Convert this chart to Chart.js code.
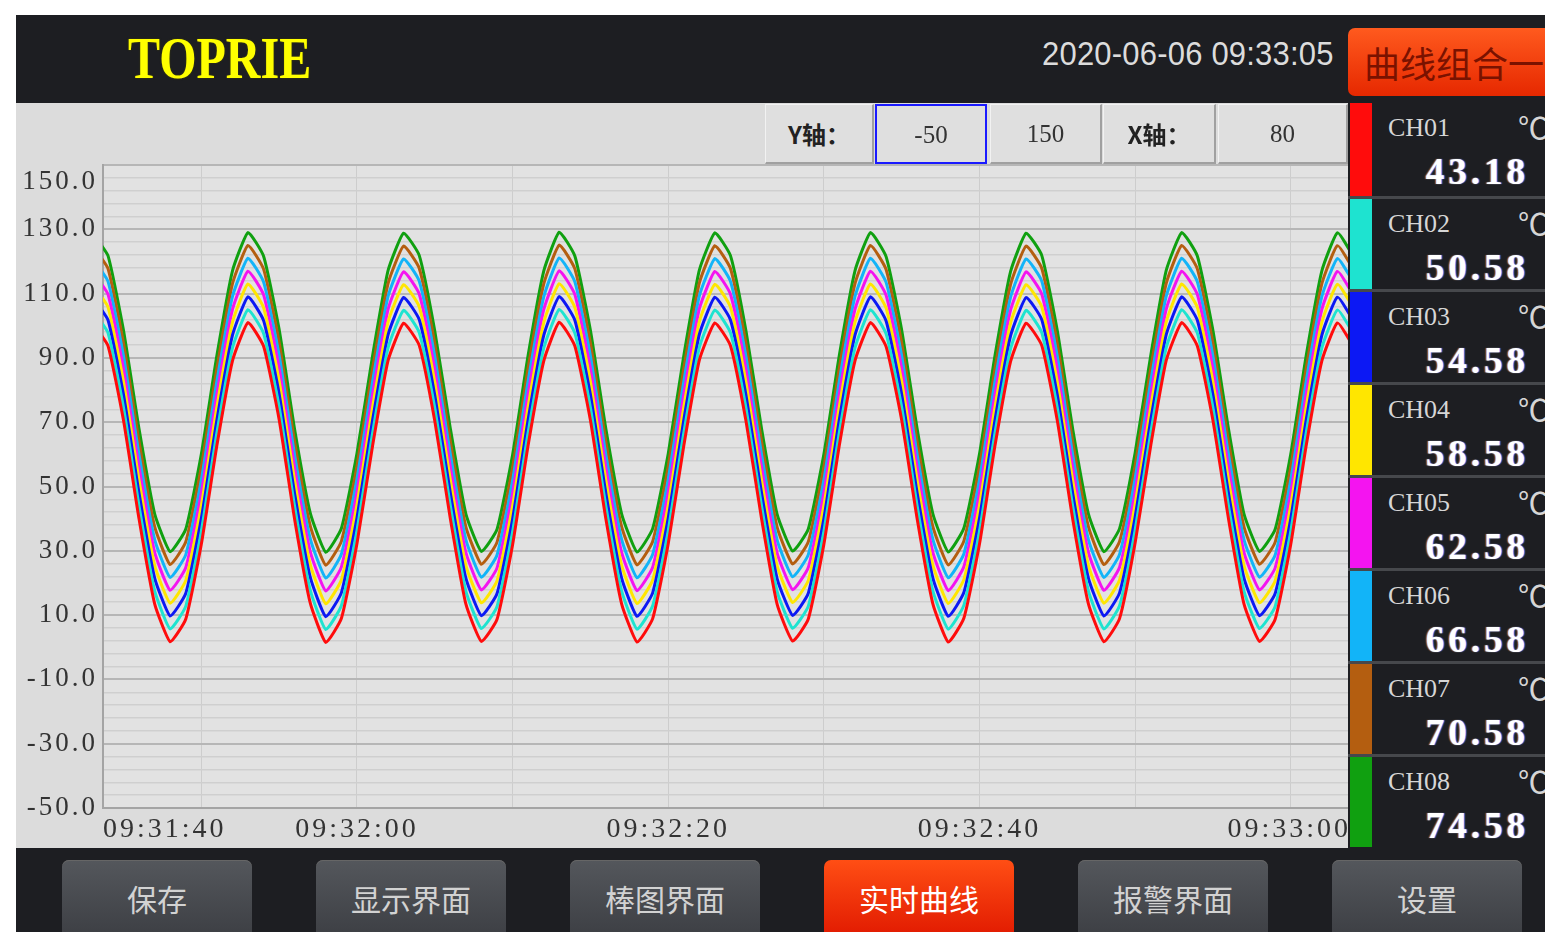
<!DOCTYPE html>
<html lang="zh-CN">
<head>
<meta charset="utf-8">
<title>TOPRIE 实时曲线</title>
<script src="https://cdn.jsdelivr.net/npm/chart.js@4.4.1/dist/chart.umd.min.js"></script>
<style>
  html, body { margin: 0; padding: 0; background: #fff; }
  body { width: 1545px; height: 932px; position: relative; overflow: hidden; font-family: "Liberation Serif", serif; }
  .abs { position: absolute; }
  #frame { left: 16px; top: 15px; width: 1529px; height: 917px; background: #1d1e22; }
  #logo { left: 128px; top: 28px; font: bold 60px/60px "Liberation Serif", serif; color: #ffff00;
          transform: scaleX(0.8); transform-origin: 0 0; text-shadow: 0 0 2px #4a4a00; white-space: nowrap; }
  #clock { left: 1042px; top: 37px; font: 31px/31px "Liberation Sans", sans-serif; color: #dcdcdc; letter-spacing: 0.2px;
           transform: scaleY(1.08); transform-origin: 0 0; white-space: nowrap; }
  #groupBtn { left: 1348px; top: 28px; width: 215px; height: 68px; border-radius: 7px;
              background: linear-gradient(#ff5a1e, #e62800); color: #7a1200;
              font: 36px/68px "Noto Sans CJK SC", sans-serif; padding-left: 16px; box-sizing: border-box; white-space: nowrap; }
  #plotPanel { left: 16px; top: 103px; width: 1332px; height: 745px; background: #dcdcdc; }
  #plotPanel canvas { position: absolute; left: 0; top: 0; }
  .cell { position: absolute; top: 104px; height: 60px; box-sizing: border-box; text-align: center; line-height: 58px;
          background: #dfdfdf; border-top: 1px solid #f2f2f2; border-left: 1px solid #f2f2f2;
          border-bottom: 2px solid #a0a0a0; border-right: 2px solid #a0a0a0; }
  .cell.lbl { font: bold 24px/58px "Noto Sans CJK SC", sans-serif; color: #222; }
  .cell.val { font: 25px/58px "Liberation Serif", serif; color: #333; }
  .cell.active { border: 2px solid #1a1aff; }
  #side { left: 1348px; top: 103px; width: 197px; height: 745px; background: #1d1e22; }
  .row { position: absolute; left: 0; width: 197px; height: 93px; box-sizing: border-box; border-top: 3px solid #46484c; }
  .row:first-child { border-top: none; }
  .strip { position: absolute; left: 2px; top: 0; bottom: 0; width: 22px; }
  .chName { position: absolute; left: 40px; top: 10px; font: 26px/30px "Liberation Serif", serif; color: #d6d6d6; }
  .unit { position: absolute; left: 170px; top: 6px; font: 30px/34px "Noto Sans CJK SC", sans-serif; color: #d6d6d6; }
  .chVal { position: absolute; right: 16px; top: 48px; font: bold 37px/42px "Liberation Serif", serif; color: #fff;
           letter-spacing: 4px; text-shadow: 1px 0 1px #5a8cff, -1px 0 1px #c08040; }
  .nav { position: absolute; top: 860px; width: 190px; height: 80px; border-radius: 7px; text-align: center;
         font: 30px/76px "Noto Sans CJK SC", sans-serif; color: #d2d2d2;
         background: linear-gradient(#54575c, #3c3e43); box-shadow: inset 0 1px 0 #666; }
  .nav.on { background: linear-gradient(#ff4e14, #e01800); color: #fff; box-shadow: none; }
</style>
</head>
<body>
<div id="frame" class="abs"></div>
<div id="logo" class="abs">TOPRIE</div>
<div id="clock" class="abs">2020-06-06 09:33:05</div>
<div id="groupBtn" class="abs">曲线组合一</div>
<div id="plotPanel" class="abs"><canvas id="trend" width="1332" height="745"></canvas></div>
<div id="controls"></div>
<div id="side" class="abs"></div>
<div id="navBar"></div>
<script>
// sample times, seconds after 09:31:40 (one sample per second)
const sampleSeconds = [3, 4, 5, 6, 7, 8, 9, 10, 11, 12,
  13, 14, 15, 16, 17, 18, 19, 20, 21, 22,
  23, 24, 25, 26, 27, 28, 29, 30, 31, 32,
  33, 34, 35, 36, 37, 38, 39, 40, 41, 42,
  43, 44, 45, 46, 47, 48, 49, 50, 51, 52,
  53, 54, 55, 56, 57, 58, 59, 60, 61, 62,
  63, 64, 65, 66, 67, 68, 69, 70, 71, 72,
  73, 74, 75, 76, 77, 78, 79, 80, 81, 82,
  83, 84];

const ch01Values = [100.9, 93.8, 70.5, 39.8, 13.5, 1.7, 8.8, 32.1, 62.8, 89.1,
  101.0, 93.6, 70.8, 39.6, 13.7, 1.5, 9.0, 32.3, 62.6, 89.2,
  100.8, 93.9, 70.4, 40.0, 13.4, 1.8, 8.7, 31.9, 62.9, 89.0,
  101.1, 93.7, 70.6, 39.7, 13.6, 1.6, 8.9, 32.2, 62.7, 89.3,
  100.9, 93.8, 70.3, 39.9, 13.3, 1.9, 8.8, 32.0, 63.0, 89.1,
  101.0, 93.5, 70.7, 39.8, 13.6, 1.6, 9.1, 32.1, 62.8, 88.9,
  100.8, 93.9, 70.5, 39.6, 13.5, 1.7, 8.9, 32.4, 62.6, 89.2,
  101.0, 93.7, 70.6, 40.0, 13.4, 1.8, 8.7, 32.0, 62.9, 89.1,
  100.9, 93.8];
const ch02Values = [104.9, 97.8, 74.5, 43.8, 17.5, 5.7, 12.8, 36.1, 66.8, 93.1,
  105.0, 97.6, 74.8, 43.6, 17.7, 5.5, 13.0, 36.3, 66.6, 93.2,
  104.8, 97.9, 74.4, 44.0, 17.4, 5.8, 12.7, 35.9, 66.9, 93.0,
  105.1, 97.7, 74.6, 43.7, 17.6, 5.6, 12.9, 36.2, 66.7, 93.3,
  104.9, 97.8, 74.3, 43.9, 17.3, 5.9, 12.8, 36.0, 67.0, 93.1,
  105.0, 97.5, 74.7, 43.8, 17.6, 5.6, 13.1, 36.1, 66.8, 92.9,
  104.8, 97.9, 74.5, 43.6, 17.5, 5.7, 12.9, 36.4, 66.6, 93.2,
  105.0, 97.7, 74.6, 44.0, 17.4, 5.8, 12.7, 36.0, 66.9, 93.1,
  104.9, 97.8];
const ch03Values = [108.9, 101.8, 78.5, 47.8, 21.5, 9.7, 16.8, 40.1, 70.8, 97.1,
  109.0, 101.6, 78.8, 47.6, 21.7, 9.5, 17.0, 40.3, 70.6, 97.2,
  108.8, 101.9, 78.4, 48.0, 21.4, 9.8, 16.7, 39.9, 70.9, 97.0,
  109.1, 101.7, 78.6, 47.7, 21.6, 9.6, 16.9, 40.2, 70.7, 97.3,
  108.9, 101.8, 78.3, 47.9, 21.3, 9.9, 16.8, 40.0, 71.0, 97.1,
  109.0, 101.5, 78.7, 47.8, 21.6, 9.6, 17.1, 40.1, 70.8, 96.9,
  108.8, 101.9, 78.5, 47.6, 21.5, 9.7, 16.9, 40.4, 70.6, 97.2,
  109.0, 101.7, 78.6, 48.0, 21.4, 9.8, 16.7, 40.0, 70.9, 97.1,
  108.9, 101.8];
const ch04Values = [112.9, 105.8, 82.5, 51.8, 25.5, 13.7, 20.8, 44.1, 74.8, 101.1,
  113.0, 105.6, 82.8, 51.6, 25.7, 13.5, 21.0, 44.3, 74.6, 101.2,
  112.8, 105.9, 82.4, 52.0, 25.4, 13.8, 20.7, 43.9, 74.9, 101.0,
  113.1, 105.7, 82.6, 51.7, 25.6, 13.6, 20.9, 44.2, 74.7, 101.3,
  112.9, 105.8, 82.3, 51.9, 25.3, 13.9, 20.8, 44.0, 75.0, 101.1,
  113.0, 105.5, 82.7, 51.8, 25.6, 13.6, 21.1, 44.1, 74.8, 100.9,
  112.8, 105.9, 82.5, 51.6, 25.5, 13.7, 20.9, 44.4, 74.6, 101.2,
  113.0, 105.7, 82.6, 52.0, 25.4, 13.8, 20.7, 44.0, 74.9, 101.1,
  112.9, 105.8];
const ch05Values = [116.9, 109.8, 86.5, 55.8, 29.5, 17.7, 24.8, 48.1, 78.8, 105.1,
  117.0, 109.6, 86.8, 55.6, 29.7, 17.5, 25.0, 48.3, 78.6, 105.2,
  116.8, 109.9, 86.4, 56.0, 29.4, 17.8, 24.7, 47.9, 78.9, 105.0,
  117.1, 109.7, 86.6, 55.7, 29.6, 17.6, 24.9, 48.2, 78.7, 105.3,
  116.9, 109.8, 86.3, 55.9, 29.3, 17.9, 24.8, 48.0, 79.0, 105.1,
  117.0, 109.5, 86.7, 55.8, 29.6, 17.6, 25.1, 48.1, 78.8, 104.9,
  116.8, 109.9, 86.5, 55.6, 29.5, 17.7, 24.9, 48.4, 78.6, 105.2,
  117.0, 109.7, 86.6, 56.0, 29.4, 17.8, 24.7, 48.0, 78.9, 105.1,
  116.9, 109.8];
const ch06Values = [120.9, 113.8, 90.5, 59.8, 33.5, 21.7, 28.8, 52.1, 82.8, 109.1,
  121.0, 113.6, 90.8, 59.6, 33.7, 21.5, 29.0, 52.3, 82.6, 109.2,
  120.8, 113.9, 90.4, 60.0, 33.4, 21.8, 28.7, 51.9, 82.9, 109.0,
  121.1, 113.7, 90.6, 59.7, 33.6, 21.6, 28.9, 52.2, 82.7, 109.3,
  120.9, 113.8, 90.3, 59.9, 33.3, 21.9, 28.8, 52.0, 83.0, 109.1,
  121.0, 113.5, 90.7, 59.8, 33.6, 21.6, 29.1, 52.1, 82.8, 108.9,
  120.8, 113.9, 90.5, 59.6, 33.5, 21.7, 28.9, 52.4, 82.6, 109.2,
  121.0, 113.7, 90.6, 60.0, 33.4, 21.8, 28.7, 52.0, 82.9, 109.1,
  120.9, 113.8];
const ch07Values = [124.9, 117.8, 94.5, 63.8, 37.5, 25.7, 32.8, 56.1, 86.8, 113.1,
  125.0, 117.6, 94.8, 63.6, 37.7, 25.5, 33.0, 56.3, 86.6, 113.2,
  124.8, 117.9, 94.4, 64.0, 37.4, 25.8, 32.7, 55.9, 86.9, 113.0,
  125.1, 117.7, 94.6, 63.7, 37.6, 25.6, 32.9, 56.2, 86.7, 113.3,
  124.9, 117.8, 94.3, 63.9, 37.3, 25.9, 32.8, 56.0, 87.0, 113.1,
  125.0, 117.5, 94.7, 63.8, 37.6, 25.6, 33.1, 56.1, 86.8, 112.9,
  124.8, 117.9, 94.5, 63.6, 37.5, 25.7, 32.9, 56.4, 86.6, 113.2,
  125.0, 117.7, 94.6, 64.0, 37.4, 25.8, 32.7, 56.0, 86.9, 113.1,
  124.9, 117.8];
const ch08Values = [128.9, 121.8, 98.5, 67.8, 41.5, 29.7, 36.8, 60.1, 90.8, 117.1,
  129.0, 121.6, 98.8, 67.6, 41.7, 29.5, 37.0, 60.3, 90.6, 117.2,
  128.8, 121.9, 98.4, 68.0, 41.4, 29.8, 36.7, 59.9, 90.9, 117.0,
  129.1, 121.7, 98.6, 67.7, 41.6, 29.6, 36.9, 60.2, 90.7, 117.3,
  128.9, 121.8, 98.3, 67.9, 41.3, 29.9, 36.8, 60.0, 91.0, 117.1,
  129.0, 121.5, 98.7, 67.8, 41.6, 29.6, 37.1, 60.1, 90.8, 116.9,
  128.8, 121.9, 98.5, 67.6, 41.5, 29.7, 36.9, 60.4, 90.6, 117.2,
  129.0, 121.7, 98.6, 68.0, 41.4, 29.8, 36.7, 60.0, 90.9, 117.1,
  128.9, 121.8];

const channelNames = ['CH01', 'CH02', 'CH03', 'CH04', 'CH05', 'CH06', 'CH07', 'CH08'];
const channelReadings = ['43.18', '50.58', '54.58', '58.58', '62.58', '66.58', '70.58', '74.58'];
const channelColors = ['#ff0c0c', '#1ee3d0', '#0c18f4', '#ffe600', '#f414f0', '#12b4f8', '#b45e10', '#10a010'];

const yLabelValues = [150, 130, 110, 90, 70, 50, 30, 10, -10, -30, -50];
const xLabelSeconds = [0, 20, 40, 60, 80];
const xLabelTexts = ['09:31:40', '09:32:00', '09:32:20', '09:32:40', '09:33:00'];
const xGridSeconds = [10, 20, 30, 40, 50, 60, 70, 80];

const axisSettings = ['-50', '150', '80'];
const navLabels = ['保存', '显示界面', '棒图界面', '实时曲线', '报警界面', '设置'];

const channelSeries = [ch01Values, ch02Values, ch03Values, ch04Values,
                       ch05Values, ch06Values, ch07Values, ch08Values];

// --- side panel, controls, nav buttons ---
const side = document.getElementById('side');
channelNames.forEach((name, i) => {
    const row = document.createElement('div');
    row.className = 'row';
    row.style.top = (i * 93) + 'px';
    row.innerHTML = '<div class="strip" style="background:' + channelColors[i] + '"></div>' +
        '<div class="chName">' + name + '</div><div class="unit">℃</div>' +
        '<div class="chVal">' + channelReadings[i] + '</div>';
    side.appendChild(row);
});

const controls = document.getElementById('controls');
function addCell(cls, left, width, text) {
    const d = document.createElement('div');
    d.className = 'cell ' + cls;
    d.style.left = left + 'px';
    d.style.width = width + 'px';
    d.textContent = text;
    controls.appendChild(d);
}
addCell('lbl', 765, 109, 'Y轴：');
addCell('val active', 875, 112, axisSettings[0]);
addCell('val', 990, 112, axisSettings[1]);
addCell('lbl', 1103, 113, 'X轴：');
addCell('val', 1218, 130, axisSettings[2]);

const navBar = document.getElementById('navBar');
navLabels.forEach((txt, i) => {
    const b = document.createElement('div');
    b.className = 'nav' + (txt === '实时曲线' ? ' on' : '');
    b.style.left = (62 + i * 254) + 'px';
    b.textContent = txt;
    navBar.appendChild(b);
});

// --- chart ---
const yGridValues = [];
for (let v = -50; v <= 150; v += 4) yGridValues.push(v);

const axisTextPlugin = {
    id: 'axisText',
    beforeDraw: function (chart) {
        const a = chart.chartArea;
        const c = chart.ctx;
        c.save();
        c.fillStyle = '#e2e2e2';
        c.fillRect(a.left, a.top, a.right - a.left, a.bottom - a.top);
        c.restore();
    },
    afterDraw: function (chart) {
        const c = chart.ctx;
        const a = chart.chartArea;
        const xs = chart.scales.x;
        const ys = chart.scales.y;
        c.save();
        c.fillStyle = '#333';
        c.textBaseline = 'middle';
        c.font = '27px "Liberation Serif"';
        c.letterSpacing = '3px';
        c.textAlign = 'right';
        yLabelValues.forEach(v => {
            let py = ys.getPixelForValue(v);
            py = Math.max(py, a.top + 17);
            c.fillText(v.toFixed(1), a.left - 5, py);
        });
        c.font = '28px "Liberation Serif"';
        c.textAlign = 'left';
        xLabelSeconds.forEach((s, i) => {
            const w = c.measureText(xLabelTexts[i]).width;
            let left = xs.getPixelForValue(s) - w / 2;
            left = Math.max(a.left, Math.min(left, a.right - w + 3));
            c.fillText(xLabelTexts[i], left, a.bottom + 22);
        });
        c.restore();
    }
};

const chart = new Chart(document.getElementById('trend').getContext('2d'), {
    type: 'line',
    data: {
        datasets: channelNames.map((name, i) => ({
            label: name,
            data: sampleSeconds.map((s, k) => ({ x: s, y: channelSeries[i][k] })),
            borderColor: channelColors[i],
            backgroundColor: channelColors[i],
            borderWidth: 3,
            pointRadius: 0,
            tension: 0.15,
            fill: false
        }))
    },
    options: {
        responsive: false,
        animation: false,
        layout: { padding: { top: 62, left: 0, right: 0, bottom: 0 } },
        plugins: { legend: { display: false }, tooltip: { enabled: false } },
        scales: {
            x: {
                type: 'linear',
                min: 3.68,
                max: 83.68,
                afterBuildTicks: s => { s.ticks = xGridSeconds.map(v => ({ value: v })); },
                afterFit: s => { s.height = 40; },
                ticks: { display: false },
                grid: { color: '#cdcdcd', lineWidth: 1, drawTicks: false },
                border: { color: '#a4a4a4', width: 2 }
            },
            y: {
                min: -50,
                max: 150,
                afterBuildTicks: s => { s.ticks = yGridValues.map(v => ({ value: v })); },
                afterFit: s => { s.width = 87; },
                ticks: { display: false },
                grid: {
                    drawTicks: false,
                    color: ctx => ((ctx.tick.value + 50) % 20 === 0 ? '#b6b6b6' : '#cfcfcf'),
                    lineWidth: ctx => ((ctx.tick.value + 50) % 20 === 0 ? 2 : 1.5)
                },
                border: { color: '#a4a4a4', width: 2 }
            }
        }
    },
    plugins: [axisTextPlugin]
});
</script>
</body>
</html>
